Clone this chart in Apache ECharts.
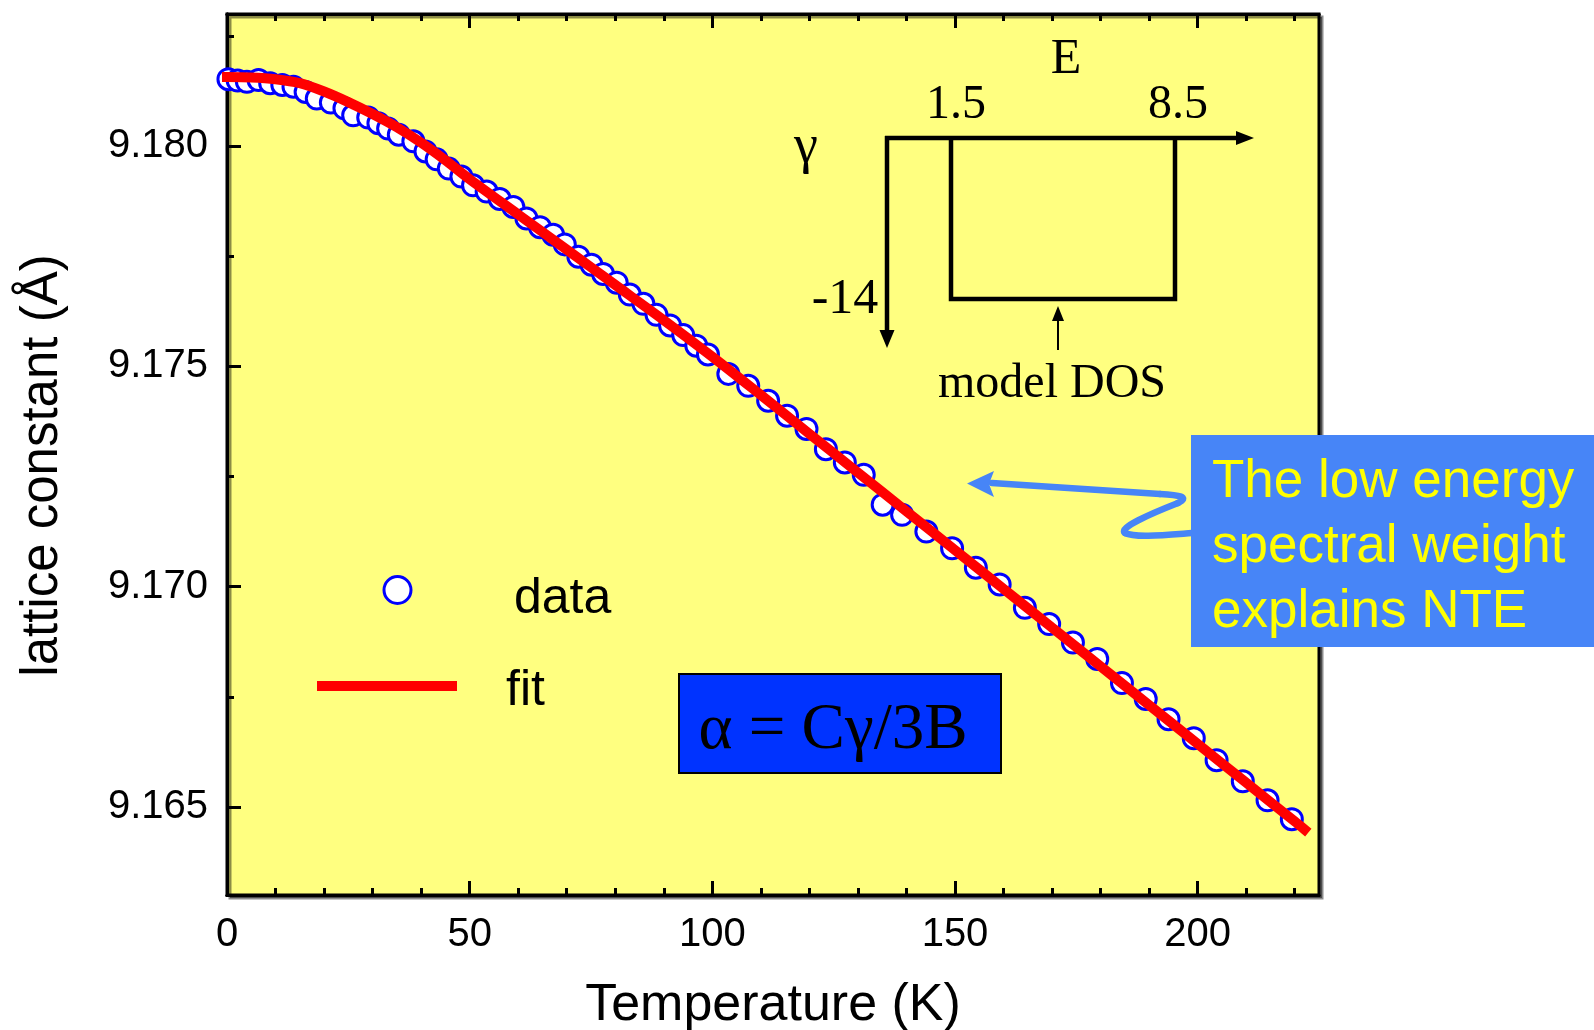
<!DOCTYPE html>
<html>
<head>
<meta charset="utf-8">
<title>Lattice constant vs temperature</title>
<script src="https://cdn.jsdelivr.net/npm/echarts@6/dist/echarts.min.js"></script>
<style>
  html, body { margin: 0; padding: 0; background: #ffffff; }
  #chart { width: 1594px; height: 1030px; }
</style>
</head>
<body>
<div id="chart"></div>
<script>
// Measured lattice constant (Å) against temperature (K)
const dataT = [0.3, 2.2, 4.1, 6.5, 8.9, 11.4, 13.7, 16.2, 18.5, 21.4, 24.2, 26.0, 29.1, 31.2,
  33.2, 35.4, 38.4, 40.9, 43.2, 45.7, 48.3, 50.7, 53.5, 56.2, 59.0, 61.7, 64.5, 67.2, 69.6,
  72.4, 75.1, 77.5, 80.3, 83.0, 85.8, 88.5, 91.3, 94.0, 96.7, 99.1, 103.3, 107.4, 111.5,
  115.4, 119.4, 123.4, 127.3, 131.2, 135.1, 139.1, 144.1, 149.4, 154.3, 159.2, 164.4,
  169.4, 174.3, 179.3, 184.4, 189.3, 194.0, 199.2, 203.9, 209.3, 214.4, 219.4];
const dataA = [9.18152, 9.18149, 9.18146, 9.18150, 9.18143, 9.18139, 9.18135, 9.18123,
  9.18108, 9.18099, 9.18086, 9.18070, 9.18065, 9.18052, 9.18040, 9.18026, 9.18011, 9.17988,
  9.17970, 9.17949, 9.17931, 9.17911, 9.17897, 9.17880, 9.17862, 9.17836, 9.17816, 9.17799,
  9.17777, 9.17749, 9.17731, 9.17710, 9.17690, 9.17663, 9.17642, 9.17617, 9.17593, 9.17571,
  9.17547, 9.17527, 9.17483, 9.17456, 9.17422, 9.17388, 9.17358, 9.17312, 9.17282, 9.17254,
  9.17186, 9.17163, 9.17125, 9.17087, 9.17043, 9.17005, 9.16952, 9.16915, 9.16873, 9.16836,
  9.16781, 9.16745, 9.16699, 9.16656, 9.16606, 9.16558, 9.16515, 9.16472];

// Model fit through the data
const fitT = [0, 5, 10, 15, 20, 25, 30, 35, 40, 45, 50, 60, 70, 80, 90, 100, 110, 120, 130,
  140, 150, 160, 170, 180, 190, 200, 210, 220, 222];
const fitA = [9.18157, 9.18156, 9.18152, 9.18143, 9.18124, 9.18100, 9.18073, 9.18043, 9.18008,
  9.17968, 9.17925, 9.17845, 9.17765, 9.17685, 9.17605, 9.17522, 9.17435, 9.17347, 9.17259,
  9.17171, 9.17083, 9.16995, 9.16907, 9.16819, 9.16731, 9.16643, 9.16555, 9.16467, 9.16449];

// Axis ranges and tick positions
const xRange = [0, 225];
const yRange = [9.163, 9.183];
const xMajorTicks = [0, 50, 100, 150, 200];
const xMinorTicks = [10, 20, 30, 40, 60, 70, 80, 90, 110, 120, 130, 140, 160, 170, 180, 190, 210, 220];
const yMajorTicks = [9.165, 9.170, 9.175, 9.180];
const yMinorTicks = [9.1675, 9.1725, 9.1775, 9.1825];

const SANS = '"Liberation Sans", Arial, Helvetica, sans-serif';
const SERIF = '"Liberation Serif", "Times New Roman", Times, serif';
const BLACK = '#000000';
const CALLOUT = '#4785f7';

const chart = echarts.init(document.getElementById('chart'), null, { renderer: 'canvas' });

const lineStyle = { color: BLACK, width: 3 };

function xAxisDef(position, ticks, len, withLabels) {
  return {
    type: 'value', min: xRange[0], max: xRange[1], position: position,
    axisLine: { show: true, lineStyle: lineStyle },
    axisTick: { show: true, inside: true, length: len, customValues: ticks, lineStyle: lineStyle },
    axisLabel: withLabels
      ? { show: true, customValues: ticks, fontSize: 40, fontFamily: SANS, color: BLACK, margin: 20 }
      : { show: false },
    splitLine: { show: false }
  };
}

function yAxisDef(ticks, len, withLabels) {
  return {
    type: 'value', min: yRange[0], max: yRange[1], position: 'left',
    axisLine: { show: true, lineStyle: lineStyle },
    axisTick: { show: true, inside: true, length: len, customValues: ticks, lineStyle: lineStyle },
    axisLabel: withLabels
      ? { show: true, customValues: ticks, fontSize: 40, fontFamily: SANS, color: BLACK, margin: 19,
          formatter: v => v.toFixed(3) }
      : { show: false },
    splitLine: { show: false }
  };
}

const xBottom = Object.assign(xAxisDef('bottom', xMajorTicks, 14, true), {
  name: 'Temperature (K)', nameLocation: 'middle', nameGap: 85,
  nameTextStyle: { fontSize: 52, fontFamily: SANS, color: BLACK }
});
const yLeft = Object.assign(yAxisDef(yMajorTicks, 14, true), {
  name: 'lattice constant (Å)', nameLocation: 'middle', nameRotate: 90, nameGap: 159,
  nameTextStyle: { fontSize: 51, fontFamily: SANS, color: BLACK, padding: [0, 22, 0, 0] }
});

// curly pointer from the callout box, as a chain of cubic segments
const pointerSegments = [
  [1192, 533, 1165, 535, 1135, 538, 1125, 533],
  [1125, 533, 1118, 528, 1150, 514, 1178, 503],
  [1178, 503, 1190, 497, 1180, 495, 1160, 494],
  [1160, 494, 1100, 490, 1040, 486, 992, 483]
].map(s => ({
  type: 'bezierCurve', z: 100,
  shape: { x1: s[0], y1: s[1], cpx1: s[2], cpy1: s[3], cpx2: s[4], cpy2: s[5], x2: s[6], y2: s[7] },
  style: { stroke: CALLOUT, lineWidth: 6.5, fill: null, lineCap: 'round' }
}));

const option = {
  backgroundColor: '#ffffff',
  animation: false,
  grid: {
    left: 227, top: 14, width: 1092, height: 881,
    outerBoundsMode: 'none',
    show: true, backgroundColor: '#ffff80', borderColor: BLACK, borderWidth: 3,
    shadowColor: 'rgba(0,0,0,0.45)', shadowOffsetX: 3, shadowOffsetY: 3, shadowBlur: 0
  },
  xAxis: [
    xBottom,
    xAxisDef('bottom', xMinorTicks, 7, false),
    xAxisDef('top', xMajorTicks, 14, false),
    xAxisDef('top', xMinorTicks, 7, false)
  ],
  yAxis: [
    yLeft,
    yAxisDef(yMinorTicks, 7, false)
  ],
  legend: [
    {
      data: [{ name: 'data', icon: 'circle',
               itemStyle: { color: '#ffffff', borderColor: '#0000ff', borderWidth: 3 } }],
      left: 382.5, top: 574, padding: 0, itemWidth: 27, itemHeight: 27, selectedMode: false,
      formatter: '{t|{name}}',
      textStyle: { fontSize: 50, fontFamily: SANS, color: BLACK,
                   rich: { t: { fontSize: 50, fontFamily: SANS, color: BLACK, padding: [18, 0, 0, 98] } } }
    },
    {
      data: [{ name: 'fit', icon: 'rect', itemStyle: { color: '#ff0000', borderWidth: 0 } }],
      left: 317, top: 666, padding: 0, itemWidth: 140, itemHeight: 10, selectedMode: false,
      formatter: '{t|{name}}',
      textStyle: { fontSize: 50, fontFamily: SANS, color: BLACK,
                   rich: { t: { fontSize: 50, fontFamily: SANS, color: BLACK, padding: [10, 0, 0, 44] } } }
    }
  ],
  series: [
    {
      name: 'data', type: 'scatter', xAxisIndex: 0, yAxisIndex: 0, clip: false,
      symbol: 'circle', symbolSize: 21,
      itemStyle: { color: '#ffffff', borderColor: '#0000ff', borderWidth: 3, opacity: 1 },
      data: dataT.map((t, i) => [t, dataA[i]]),
      z: 3
    },
    {
      name: 'fit', type: 'line', xAxisIndex: 0, yAxisIndex: 0, clip: false,
      showSymbol: false, symbol: 'none', smooth: 0.3,
      lineStyle: { color: '#ff0000', width: 10, cap: 'square' },
      itemStyle: { color: '#ff0000' },
      data: fitT.map((t, i) => [t, fitA[i]]),
      z: 4
    }
  ],
  graphic: [
    // model density of states sketch: E axis, gamma axis, rectangular band
    { type: 'line', z: 100, shape: { x1: 885, y1: 138, x2: 1240, y2: 138 },
      style: { stroke: BLACK, lineWidth: 4.5 } },
    { type: 'polygon', z: 100, shape: { points: [[1254, 138], [1236, 131], [1236, 145]] },
      style: { fill: BLACK } },
    { type: 'line', z: 100, shape: { x1: 887, y1: 136, x2: 887, y2: 334 },
      style: { stroke: BLACK, lineWidth: 4.5 } },
    { type: 'polygon', z: 100, shape: { points: [[887, 348], [879.5, 330], [894.5, 330]] },
      style: { fill: BLACK } },
    { type: 'polyline', z: 100, shape: { points: [[951, 138], [951, 299], [1175, 299], [1175, 138]] },
      style: { stroke: BLACK, lineWidth: 4.5, fill: null } },
    { type: 'line', z: 100, shape: { x1: 1058, y1: 350, x2: 1058, y2: 318 },
      style: { stroke: BLACK, lineWidth: 2 } },
    { type: 'polygon', z: 100, shape: { points: [[1058, 306], [1052, 321], [1064, 321]] },
      style: { fill: BLACK } },
    { type: 'text', z: 100, x: 1066, y: 60,
      style: { text: 'E', fontSize: 50, fontFamily: SERIF, fill: BLACK, align: 'center', verticalAlign: 'middle' } },
    { type: 'text', z: 100, x: 956, y: 105,
      style: { text: '1.5', fontSize: 48, fontFamily: SERIF, fill: BLACK, align: 'center', verticalAlign: 'middle' } },
    { type: 'text', z: 100, x: 1178, y: 105,
      style: { text: '8.5', fontSize: 48, fontFamily: SERIF, fill: BLACK, align: 'center', verticalAlign: 'middle' } },
    { type: 'text', z: 100, x: 806, y: 148,
      style: { text: 'γ', fontSize: 54, fontFamily: SERIF, fill: BLACK, align: 'center', verticalAlign: 'middle' } },
    { type: 'text', z: 100, x: 845, y: 300,
      style: { text: '-14', fontSize: 50, fontFamily: SERIF, fill: BLACK, align: 'center', verticalAlign: 'middle' } },
    { type: 'text', z: 100, x: 1052, y: 384,
      style: { text: 'model DOS', fontSize: 48, fontFamily: SERIF, fill: BLACK, align: 'center', verticalAlign: 'middle' } },

    // callout box with curly pointer
    ...pointerSegments,
    { type: 'polygon', z: 100, shape: { points: [[967, 483.5], [994, 471], [989, 484], [994, 497]] },
      style: { fill: CALLOUT } },
    { type: 'rect', z: 100, shape: { x: 1191, y: 435, width: 403, height: 212 },
      style: { fill: CALLOUT } },
    { type: 'text', z: 101, x: 1212, y: 450,
      style: { text: 'The low energy\nspectral weight\nexplains NTE', fontSize: 53, fontFamily: SANS,
               fill: '#ffff00', lineHeight: 65, align: 'left', verticalAlign: 'top' } },

    // thermal expansion relation
    { type: 'rect', z: 100, shape: { x: 679, y: 674, width: 322, height: 99 },
      style: { fill: '#0033ff', stroke: BLACK, lineWidth: 2 } },
    { type: 'text', z: 101, x: 833, y: 731,
      style: { text: 'α = Cγ/3B', fontSize: 65, fontFamily: SERIF, fill: BLACK, align: 'center', verticalAlign: 'middle' } }
  ]
};

chart.setOption(option);
</script>
</body>
</html>
